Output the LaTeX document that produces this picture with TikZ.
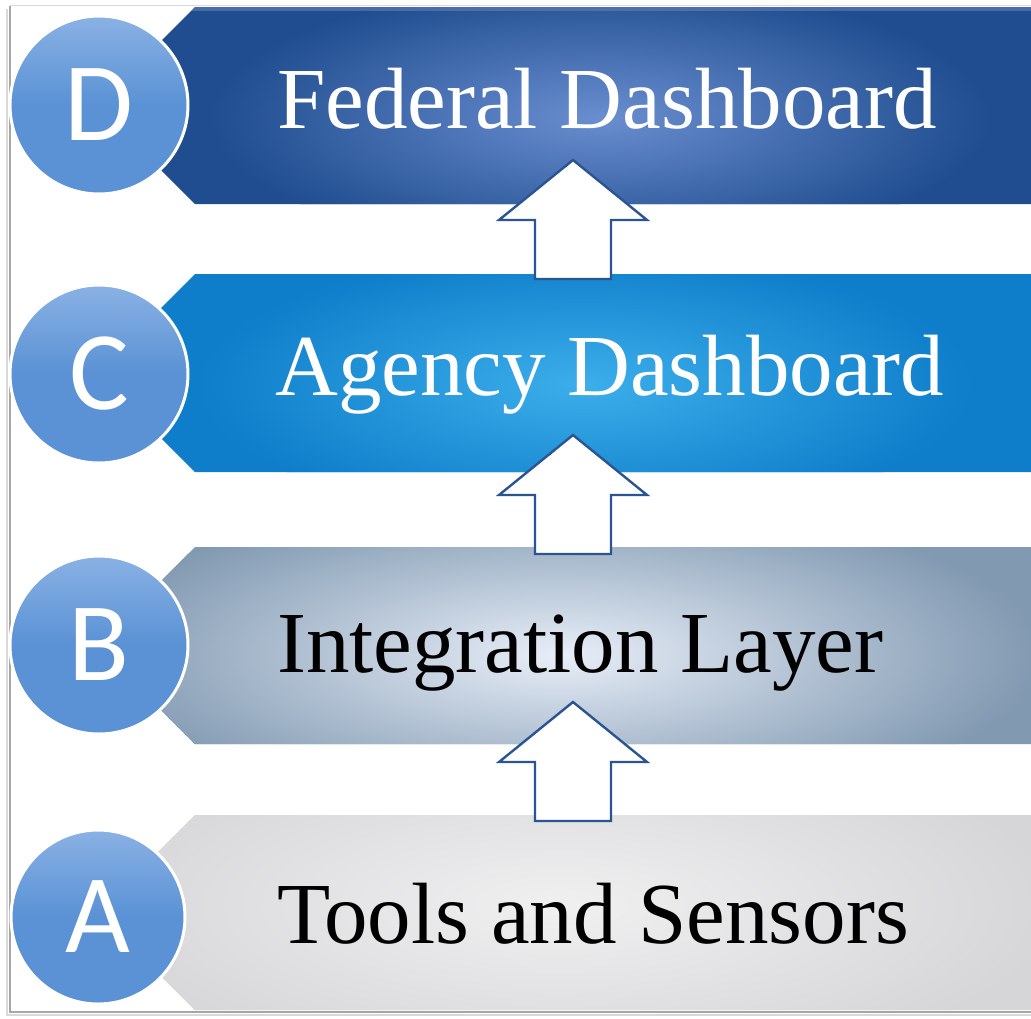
\documentclass[tikz,border=0pt]{standalone}
\usepackage{fontspec}
\setmainfont{Liberation Serif}
\newfontfamily\lettfont{Carlito}
\definecolor{Dbase}{HTML}{1F4D8F}
\definecolor{Dglow}{HTML}{6A8ED0}
\definecolor{Cbase}{HTML}{0E7DCA}
\definecolor{Cglow}{HTML}{3CAEEA}
\definecolor{Bbase}{HTML}{8199B1}
\definecolor{Bglow}{HTML}{E8EEF8}
\definecolor{Abase}{HTML}{D6D6D8}
\definecolor{Aglow}{HTML}{F0F0F1}
\definecolor{arrline}{HTML}{2B5592}
\definecolor{circbase}{HTML}{5A92D5}
\definecolor{circtop}{HTML}{8AB1E4}
\newcommand\bandshape[2]{(195,#1) -- (1031,#1) -- (1031,#2) -- (195,#2) -- ({195-(#2-#1)/2},{(#1+#2)/2}) -- cycle}
\newcommand\uparr[1]{(573,#1) -- (647,{#1+60}) -- (611,{#1+60}) -- (611,{#1+119}) -- (535,{#1+119}) -- (535,{#1+60}) -- (499,{#1+60}) -- cycle}
\tikzset{
  bandtext/.style={anchor=base west, inner sep=0pt, font=\fontsize{87}{90}\selectfont},
  circ/.style={circle, minimum size=178pt, inner sep=0pt, draw=white, line width=3pt,
    top color=circtop, bottom color=circbase, middle color=circbase, text=white,
    font=\lettfont\fontsize{112}{112}\selectfont},
  uparrow/.style={draw=arrline, fill=white, line width=2.4pt, line join=miter},
}
\begin{document}
\begin{tikzpicture}[x=1pt,y=-1pt]
\useasboundingbox (0,0) rectangle (1031,1018);
\fill[white] (0,0) rectangle (1031,1018);
% frame
\draw[black!15, line width=2pt] (7,9) -- (7,1015) -- (1031,1015);
\draw[black!35, line width=2.5pt] (10,6) -- (10,1012) -- (1031,1012);
\draw[black!15, line width=1pt] (10,5.5) -- (1031,5.5);
% band D
\begin{scope}
\clip \bandshape{7}{204};
\fill[Dbase] \bandshape{7}{204};
\shade[inner color=Dglow, outer color=Dbase] (600,118) ellipse (390 and 135);
\fill[Dbase!70!white, opacity=0.6] (150,7) rectangle (1031,11);
\end{scope}
% band C
\begin{scope}
\clip \bandshape{274}{472};
\fill[Cbase] \bandshape{274}{472};
\shade[inner color=Cglow, outer color=Cbase] (585,385) ellipse (390 and 135);
\end{scope}
% band B
\begin{scope}
\clip \bandshape{547}{744};
\fill[Bbase] \bandshape{547}{744};
\shade[inner color=Bglow, outer color=Bbase] (560,655) ellipse (480 and 160);
\end{scope}
% band A
\begin{scope}
\clip \bandshape{815}{1010};
\fill[Abase] \bandshape{815}{1010};
\shade[inner color=Aglow, outer color=Abase] (560,905) ellipse (500 and 170);
\end{scope}
% texts
\node[bandtext, text=white] (tD) at (277,128) {Federal Dashboard};
\node[bandtext, text=white] (tC) at (275,395) {Agency Dashboard};
\node[bandtext, text=black] (tB) at (277,672) {Integration Layer};
\node[bandtext, text=black] (tA) at (277,943) {Tools and Sensors};
% arrows
\draw[uparrow] \uparr{160};
\draw[uparrow] \uparr{435};
\draw[uparrow] \uparr{702};
% circles
\node[circ] (cD) at (99,105) {D};
\node[circ] (cC) at (99,374) {C};
\node[circ] (cB) at (99,645) {B};
\node[circ, minimum size=174pt] (cA) at (98,917) {A};
\end{tikzpicture}
\end{document}
